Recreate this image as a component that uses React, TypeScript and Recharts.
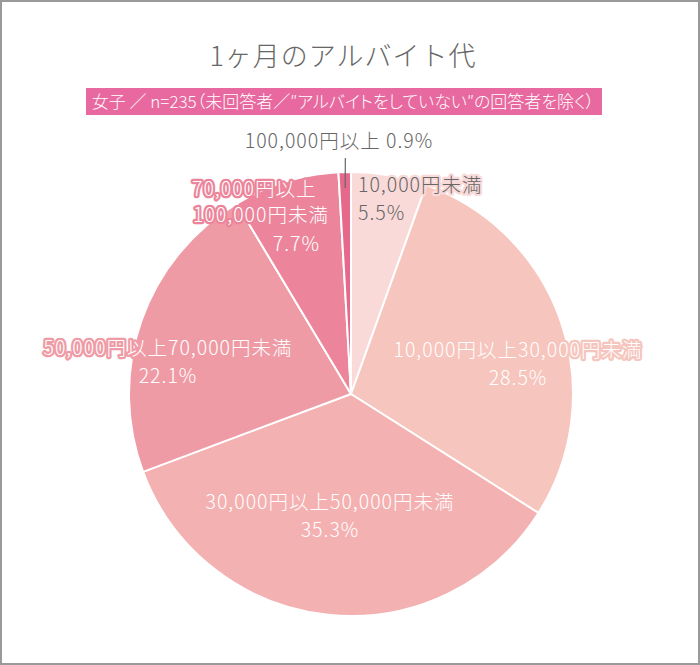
import React from "react";
import { PieChart, Pie, Cell } from "recharts";

// 1ヶ月のアルバイト代（女子 n=235）
const categories = [
  "10,000円未満",
  "10,000円以上30,000円未満",
  "30,000円以上50,000円未満",
  "50,000円以上70,000円未満",
  "70,000円以上100,000円未満",
  "100,000円以上",
];
const shares = [5.5, 28.5, 35.3, 22.1, 7.7, 0.9];
const sliceColors = ["#F9DAD9", "#F6C5BD", "#F4B1B2", "#EF9BA6", "#EC859B", "#E6698C"];

const title = "1ヶ月のアルバイト代";
const subtitle = "女子 ／ n=235（未回答者／″アルバイトをしていない″の回答者を除く）";

const W = 700;
const H = 665;
const CX = 351;
const CY = 394;
const R = 222;
const FONT = '"Noto Sans CJK JP", "Noto Sans", sans-serif';

type LineLayout = { dx: number; dy: number; anchor: "start" | "middle" | "end" };

// label line placement relative to pie center
const labelLayout: LineLayout[][] = [
  [
    { dx: 7, dy: -202, anchor: "start" },
    { dx: 7, dy: -174, anchor: "start" },
  ],
  [
    { dx: 167, dy: -37, anchor: "middle" },
    { dx: 167, dy: -9, anchor: "middle" },
  ],
  [
    { dx: -21, dy: 115, anchor: "middle" },
    { dx: -21, dy: 143, anchor: "middle" },
  ],
  [
    { dx: -183, dy: -39, anchor: "middle" },
    { dx: -183, dy: -11, anchor: "middle" },
  ],
  [
    { dx: -159, dy: -198, anchor: "start" },
    { dx: -158, dy: -172, anchor: "start" },
    { dx: -31, dy: -143, anchor: "end" },
  ],
  [{ dx: -12, dy: -246, anchor: "middle" }],
];

const data = categories.map((name, i) => ({ name, value: shares[i] }));

function labelLines(i: number) {
  const name = categories[i];
  const pct = `${shares[i].toFixed(1)}%`;
  if (i === 4) {
    const cut = name.indexOf("以上") + 2;
    return [name.slice(0, cut), name.slice(cut), pct];
  }
  if (i === 5) return [`${name} ${pct}`];
  return [name, pct];
}

function renderLabel(props: any) {
  const { index, midAngle } = props;
  const cx = typeof props.cx === "number" ? props.cx : CX;
  const cy = typeof props.cy === "number" ? props.cy : CY;
  const outerRadius = typeof props.outerRadius === "number" ? props.outerRadius : R;
  const dark = index === 0 || index === 5;
  const lines = labelLines(index);
  const rad = (Math.PI / 180) * midAngle;
  return (
    <g>
      {index === 5 && (
        <line
          x1={cx + Math.cos(rad) * (outerRadius - 16)}
          y1={cy - Math.sin(rad) * (outerRadius - 16)}
          x2={cx + Math.cos(rad) * (outerRadius + 14) + 1}
          y2={cy - Math.sin(rad) * (outerRadius + 14)}
          stroke="#666"
          strokeWidth={1.2}
        />
      )}
      <text
        fontFamily={FONT}
        fontSize={19.5}
        fontWeight={300}
        letterSpacing={1}
        fill={dark ? "#666666" : "#ffffff"}
        stroke={index === 5 ? "none" : sliceColors[index]}
        strokeWidth={4.5}
        strokeLinejoin="round"
        paintOrder="stroke"
      >
        {lines.map((t, k) => {
          const l = labelLayout[index][k];
          return (
            <tspan key={k} x={cx + l.dx} y={cy + l.dy} textAnchor={l.anchor}>
              {t}
            </tspan>
          );
        })}
      </text>
    </g>
  );
}

export default function App() {
  return (
    <div style={{ position: "absolute", left: 0, top: 0, width: W, height: H, background: "#fff" }}>
      <svg width={W} height={H} style={{ position: "absolute", left: 0, top: 0 }}>
        <rect x={1} y={1} width={W - 2} height={H - 2} fill="#fff" stroke="#9a9a9a" strokeWidth={2} />
        <text
          x={343}
          y={66}
          textAnchor="middle"
          fontFamily={FONT}
          fontSize={27}
          fontWeight={300}
          letterSpacing={1}
          fill="#666666"
        >
          {title}
        </text>
        <rect x={86} y={88} width={516} height={27} fill="#E8699F" />
        <text
          x={343}
          y={108}
          textAnchor="middle"
          fontFamily={FONT}
          fontSize={17}
          fontWeight={300}
          fill="#ffffff"
          style={{ fontFeatureSettings: '"palt"' }}
        >
          {subtitle}
        </text>
      </svg>
      <div style={{ position: "absolute", left: 0, top: 0 }}>
        <PieChart width={W} height={H} margin={{ top: 0, right: 0, bottom: 0, left: 0 }}>
          <Pie
            data={data}
            dataKey="value"
            nameKey="name"
            cx={CX}
            cy={CY}
            outerRadius={R}
            startAngle={90}
            endAngle={-270}
            stroke="#ffffff"
            strokeWidth={2}
            label={renderLabel}
            labelLine={false}
            isAnimationActive={false}
          >
            {data.map((d, i) => (
              <Cell key={d.name} fill={sliceColors[i]} />
            ))}
          </Pie>
        </PieChart>
      </div>
    </div>
  );
}
